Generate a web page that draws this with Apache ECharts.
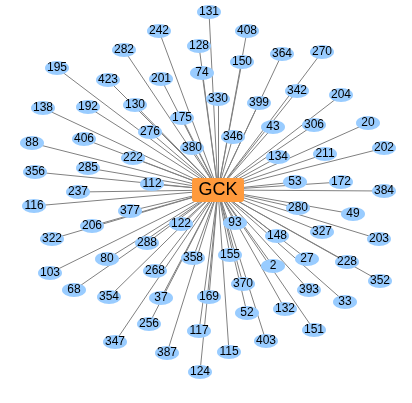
<!DOCTYPE html>
<html>
<head>
<meta charset="utf-8">
<script src="https://cdn.jsdelivr.net/npm/echarts@6/dist/echarts.min.js"></script>
<style>
  html, body { margin: 0; padding: 0; background: #fff; }
  #chart { width: 412px; height: 403px; }
</style>
</head>
<body>
<div id="chart"></div>
<script>
// hub node and its neighbours, layout coords
const hubName = 'GCK';
const hubPos = [218, 190];
const nodeNames = [
  '242', '282', '195', '423', '201', '138', '192', '130', '175', '276', '88', '406', '380', '222', '356', '285', '112', '237',
  '131', '408', '128', '74', '150', '364', '270', '342', '330', '399', '204', '43', '306', '20', '346', '134', '211', '202', '53', '172', '384',
  '116', '377', '206', '322', '122', '288', '80', '358', '103', '268', '68', '354', '37', '256', '347', '387', '117', '124', '169',
  '280', '49', '93', '327', '203', '148', '155', '27', '228', '2', '352', '370', '393', '33', '52', '132', '151', '403', '115'
];
const nodeX = [
  159, 124, 57, 108, 161, 43, 88, 135, 182, 150, 32, 84, 192, 133, 35, 88, 152, 78,
  209, 247, 199, 202, 242, 282, 322, 297, 218, 259, 341, 273, 314, 368, 233, 278, 325, 384, 295, 341, 384,
  34, 130, 92, 52, 181, 147, 107, 193, 50, 155, 74, 109, 161, 149, 115, 167, 199, 200, 209,
  298, 353, 235, 322, 379, 277, 230, 307, 347, 273, 380, 243, 309, 345, 247, 285, 314, 266, 229
];
const nodeY = [
  31, 50, 68, 80, 79, 108, 107, 105, 118, 132, 143, 139, 148, 158, 172, 168, 184, 192,
  12, 31, 46, 73, 62, 54, 52, 91, 99, 103, 95, 127, 125, 123, 137, 157, 154, 148, 182, 182, 191,
  206, 211, 226, 239, 224, 243, 259, 258, 273, 271, 290, 297, 298, 324, 342, 353, 331, 372, 297,
  208, 214, 223, 232, 239, 236, 255, 259, 262, 266, 281, 284, 290, 302, 313, 309, 330, 341, 352
];

const chart = echarts.init(document.getElementById('chart'));

const ellipse = 'path://M0,7 A12,7 0 1,1 24,7 A12,7 0 1,1 0,7 Z';
const hubBox = 'path://M3,0 L49,0 Q52,0 52,3 L52,21 Q52,24 49,24 L3,24 Q0,24 0,21 L0,3 Q0,0 3,0 Z';

const data = [{
  name: hubName,
  value: hubPos,
  symbol: hubBox,
  symbolSize: [52, 24],
  itemStyle: { color: '#FF9A3C' },
  label: { fontSize: 18 }
}];
nodeNames.forEach((n, i) => {
  data.push({ name: n, value: [nodeX[i], nodeY[i]] });
});
const links = nodeNames.map(n => ({ source: hubName, target: n }));

chart.setOption({
  animation: false,
  grid: { left: 0, right: 0, top: 0, bottom: 0 },
  xAxis: { type: 'value', min: 0, max: 412, show: false },
  yAxis: { type: 'value', min: 0, max: 403, inverse: true, show: false },
  series: [{
    type: 'graph',
    layout: 'none',
    coordinateSystem: 'cartesian2d',
    symbol: ellipse,
    symbolSize: [24, 14],
    itemStyle: { color: '#99CCFF' },
    label: {
      show: true,
      position: 'inside',
      color: '#000',
      fontSize: 12,
      fontFamily: 'Liberation Sans, Arial, sans-serif'
    },
    lineStyle: { color: '#808080', width: 1, opacity: 1 },
    data: data,
    links: links
  }]
});
</script>
</body>
</html>
